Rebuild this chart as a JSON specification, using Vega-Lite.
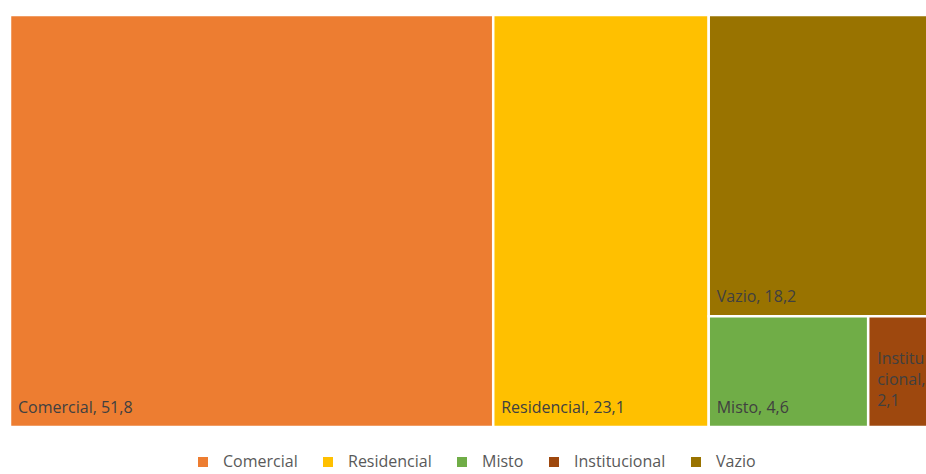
{
  "$schema": "https://vega.github.io/schema/vega-lite/v6.json",
  "width": 931,
  "height": 412,
  "padding": {"left": 8, "top": 13, "right": 0, "bottom": 5},
  "background": "white",
  "config": {
    "view": {"stroke": null},
    "font": "Open Sans",
    "legend": {"layout": {"bottom": {"anchor": "middle"}}}
  },
  "data": {
    "values": [
      {"cat": "Comercial", "value": 51.8, "col": 1, "row": 1, "label": "Comercial, 51,8"},
      {"cat": "Residencial", "value": 23.1, "col": 2, "row": 1, "label": "Residencial, 23,1"},
      {"cat": "Vazio", "value": 18.2, "col": 3, "row": 1, "label": "Vazio, 18,2"},
      {"cat": "Misto", "value": 4.6, "col": 3, "row": 2, "label": "Misto, 4,6"},
      {"cat": "Institucional", "value": 2.1, "col": 3, "row": 2, "label": "Institu\ncional,\n2,1"}
    ]
  },
  "transform": [
    {"stack": "value", "groupby": [], "sort": [{"field": "col", "order": "ascending"}, {"field": "value", "order": "descending"}], "as": ["s0", "s1"]},
    {"joinaggregate": [{"op": "min", "field": "s0", "as": "colX0"}, {"op": "max", "field": "s1", "as": "colX1"}], "groupby": ["col"]},
    {"stack": "value", "groupby": ["col"], "sort": [{"field": "row", "order": "ascending"}], "offset": "normalize", "as": ["ys0", "ys1"]},
    {"joinaggregate": [{"op": "min", "field": "ys0", "as": "rowY0"}, {"op": "max", "field": "ys1", "as": "rowY1"}], "groupby": ["col", "row"]},
    {"stack": "value", "groupby": ["col", "row"], "sort": [{"field": "value", "order": "descending"}], "offset": "normalize", "as": ["xs0", "xs1"]},
    {"calculate": "datum.colX0 + datum.xs0 * (datum.colX1 - datum.colX0)", "as": "x0"},
    {"calculate": "datum.colX0 + datum.xs1 * (datum.colX1 - datum.colX0)", "as": "x1"}
  ],
  "encoding": {
    "x": {"field": "x0", "type": "quantitative", "scale": {"domain": [0, 99.8], "nice": false, "zero": false}, "axis": null},
    "y": {"field": "rowY1", "type": "quantitative", "scale": {"domain": [0, 1], "reverse": true, "nice": false}, "axis": null}
  },
  "layer": [
    {
      "mark": {"type": "rect", "stroke": "white", "strokeWidth": 2.5},
      "encoding": {
        "x2": {"field": "x1"},
        "y": {"field": "rowY0", "type": "quantitative", "scale": {"domain": [0, 1], "reverse": true, "nice": false}, "axis": null},
        "y2": {"field": "rowY1"},
        "color": {
          "field": "cat",
          "type": "nominal",
          "scale": {
            "domain": ["Comercial", "Residencial", "Misto", "Institucional", "Vazio"],
            "range": ["#ED7D31", "#FFC000", "#70AD47", "#9E480E", "#997300"]
          },
          "legend": {
            "title": null,
            "orient": "bottom",
            "direction": "horizontal",
            "symbolType": "square",
            "symbolSize": 100,
            "symbolStrokeWidth": 0,
            "symbolOffset": 0,
            "labelOffset": 12,
            "labelFontSize": 16,
            "labelColor": "#595959",
            "labelFont": "Open Sans",
            "columnPadding": 22,
            "offset": 27
          }
        }
      }
    },
    {
      "transform": [{"filter": "datum.cat != 'Institucional'"}],
      "mark": {"type": "text", "align": "left", "baseline": "alphabetic", "dx": 8, "dy": -14, "fontSize": 16, "color": "#404040"},
      "encoding": {
        "text": {"field": "label"}
      }
    },
    {
      "transform": [{"filter": "datum.cat == 'Institucional'"}],
      "mark": {"type": "text", "align": "left", "baseline": "alphabetic", "dx": 9, "dy": -63, "fontSize": 16, "color": "#404040", "lineBreak": "\n", "lineHeight": 21},
      "encoding": {
        "text": {"field": "label"}
      }
    }
  ]
}
